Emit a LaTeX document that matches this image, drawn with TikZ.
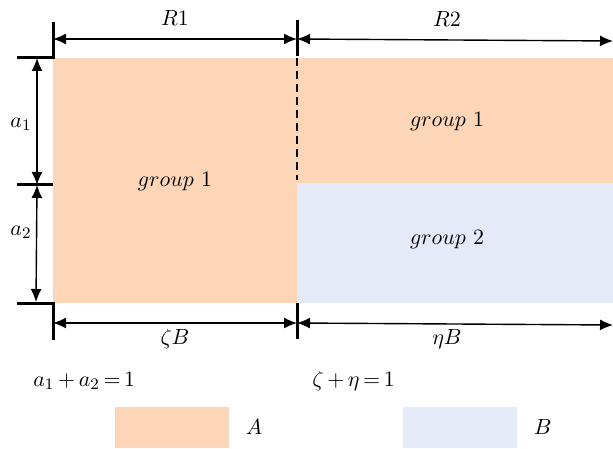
\documentclass[tikz,border=0pt]{standalone}
\usetikzlibrary{arrows.meta,positioning}
\definecolor{peach}{HTML}{FDD5B7}
\definecolor{paleblue}{HTML}{E4EAF8}
\begin{document}
\begin{tikzpicture}[x=0.5pt,y=-0.5pt, font=\fontsize{11}{13}\selectfont,
    dimline/.style={{Latex[length=6.5pt,width=5.5pt]}-{Latex[length=6.5pt,width=5.5pt]}, line width=0.7pt},
    tickline/.style={line width=1.5pt},
    legbox/.style={minimum width=57pt, minimum height=20.5pt, inner sep=0pt}]
\useasboundingbox (0,0) rectangle (613,448);

% ---- Blocks ----
\fill[peach] (53,58) rectangle (613,183);
\fill[peach] (53,183) rectangle (297,303);
\fill[paleblue] (297,183) rectangle (613,303);
\draw[dash pattern=on 4pt off 2.5pt, line width=0.8pt] (297,58) -- (297,180);

\node (gleft) at (175,182) {$group~1$};
\node (gtop) at (447,122) {$group~1$};
\node (gbot) at (447,240) {$group~2$};

% ---- Reference ticks ----
\coordinate (tl) at (53,58);
\coordinate (ml) at (53,185);
\coordinate (bl) at (53,303);
\draw[tickline] (17,58) -- (tl) -- (53,22);
\draw[tickline] (17,185) -- (ml);
\draw[tickline] (17,303) -- (bl) -- (53,340);
\draw[tickline] (297,20) -- (297,56);
\draw[tickline] (297,303) -- (297,339);

% ---- Dimension arrows ----
\coordinate (r1a) at (53,39);
\coordinate (r1b) at (297,39);
\coordinate (r2b) at (613,41);
\coordinate (b1a) at (53,323);
\coordinate (b1b) at (297,323);
\coordinate (b2b) at (613,325);
\coordinate (v0) at (37,58);
\coordinate (v1) at (37,185);
\coordinate (v2) at (36,302);
\draw[dimline] (r1a) -- (r1b);
\draw[dimline] (r1b) -- (r2b);
\draw[dimline] (b1a) -- (b1b);
\draw[dimline] (b1b) -- (b2b);
\draw[dimline] (v0) -- (v1);
\draw[dimline] (v1) -- (v2);

\node (lR1) at (175,18) {$R1$};
\node (lR2) at (447,19) {$R2$};
\node (la1) at (21,124) {$a_1$};
\node (la2) at (21,232) {$a_2$};
\node (lzB) at (175,339) {$\zeta B$};
\node (leB) at (447,339) {$\eta B$};

% ---- Constraints ----
\node[anchor=west, inner sep=0pt] (sumA) at (33,381) {$a_1\,{+}\,a_2\,{=}\,1$};
\node[anchor=west, inner sep=0pt] (sumB) at (312,381) {$\zeta\,{+}\,\eta\,{=}\,1$};

% ---- Legend ----
\node[legbox, fill=peach] (keyA) at (172,427.5) {};
\node[right=8pt of keyA, inner sep=0pt] (txtA) {$A$};
\node[legbox, fill=paleblue] (keyB) at (460,427.5) {};
\node[right=8pt of keyB, inner sep=0pt] (txtB) {$B$};
\end{tikzpicture}
\end{document}
